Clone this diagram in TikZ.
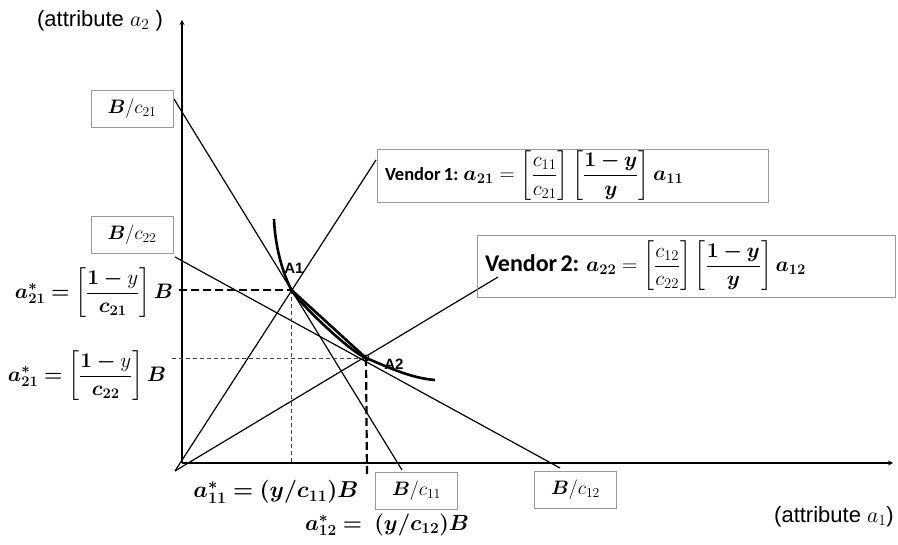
\RequirePackage{fix-cm}
\documentclass[tikz,border=0pt]{standalone}
\usepackage{amsmath,bm}
\usepackage{fontspec}
\setmainfont{Liberation Sans}
\newfontfamily\vendorfont{Carlito}
\newcommand{\eqsize}{\fontsize{21}{25}\selectfont}
\begin{document}
\begin{tikzpicture}[x=1pt, y=-1pt, line width=1.2pt, >=stealth,
        every node/.style={inner sep=0pt},
        valbox/.style={draw=black!40, line width=0.8pt, minimum width=82pt, minimum height=37pt, font=\fontsize{19.5}{22}\selectfont},
        eqbox/.style={draw=black!40, line width=0.8pt, align=left, inner xsep=8pt, font=\vendorfont\bfseries},
        axislbl/.style={font=\fontsize{22}{26}\selectfont},
        optlbl/.style={font=\fontsize{21}{25}\selectfont},
        ptlbl/.style={font=\bfseries\fontsize{15}{18}\selectfont},
        thickdash/.style={dash pattern=on 8pt off 4pt, line width=2.2pt},
        thindash/.style={dash pattern=on 4pt off 3pt, line width=0.9pt, black!75}]
    \useasboundingbox (0,0) rectangle (898,545);
    \coordinate (O) at (182,463);
    \coordinate (YT) at (182,20);
    \coordinate (XT) at (893,463);
    \coordinate (R) at (175,471);
    \coordinate (A1) at (291.5,290);
    \coordinate (A2) at (366,358);
    \coordinate (L1s) at (174,99);
    \coordinate (L1e) at (402,470);
    \coordinate (L2s) at (175,257);
    \coordinate (L2e) at (560,468);
    \coordinate (V1e) at (376,160);
    \coordinate (V2e) at (498,277);
    \coordinate (H1) at (179,290);
    \coordinate (H2) at (172,358);
    \coordinate (D1) at (291.5,463);
    \coordinate (D2) at (367,475);
    \coordinate (Cs) at (274,219);
    \coordinate (Ce) at (435,380);
    \draw[->] (O) -- (YT);
    \draw[->] (O) -- (XT);
    \draw (R) -- (V1e);
    \draw (R) -- (V2e);
    \draw (L1s) -- (L1e);
    \draw (L2s) -- (L2e);
    \draw[thickdash] (H1) -- (A1);
    \draw[thindash] (A1) -- (D1);
    \draw[thindash] (H2) -- (A2);
    \draw[thickdash] (A2) -- (D2);
    \draw[line width=2.6pt] (A1) -- (A2);
    \draw[line width=2.6pt] (Cs) .. controls (275,245) and (282,272) .. (A1)
        .. controls (298,302) and (350,352) .. (A2)
        .. controls (388,367) and (410,378) .. (Ce);
    \draw[line width=0.9pt] (A2) circle (3);
    \node[ptlbl] (a1lbl) at (294,268) {A1};
    \node[ptlbl] (a2lbl) at (394,364) {A2};
    \node[valbox] (b21) at (132,108.5) {$\bm{B}/c_{21}$};
    \node[valbox] (b22) at (132,235) {$\bm{B}/c_{22}$};
    \node[valbox] (b11) at (416.5,491) {$\bm{B}/c_{11}$};
    \node[valbox] (b12) at (575.5,490) {$\bm{B}/c_{12}$};
    \node[eqbox, text width=375pt, minimum height=53pt] (v1) at (572.5,175.5)
        {\fontsize{18.5}{21}\selectfont Vendor 1: {\eqsize$\bm{a_{21}} = \left[\dfrac{c_{11}}{c_{21}}\right]\left[\dfrac{\bm{1-y}}{\bm{y}}\right]\bm{a_{11}}$}};
    \node[eqbox, text width=402pt, minimum height=62pt] (v2) at (686,266)
        {\fontsize{24}{27}\selectfont Vendor 2:\ \ {\eqsize$\bm{a_{22}} = \left[\dfrac{c_{12}}{c_{22}}\right]\left[\dfrac{\bm{1-y}}{\bm{y}}\right]\bm{a_{12}}$}};
    \node[axislbl] (ya) at (100,21) {(attribute $a_2$ )};
    \node[axislbl] (xa) at (834,517) {(attribute $a_1$)};
    \node[optlbl] (s21a) at (94,293) {$\bm{a^{*}_{21}=}\left[\dfrac{\bm{1-}y}{\bm{c_{21}}}\right]\bm{B}$};
    \node[optlbl] (s21b) at (87,376) {$\bm{a^{*}_{21}=}\left[\dfrac{\bm{1-}y}{\bm{c_{22}}}\right]\bm{B}$};
    \node[optlbl, font=\fontsize{23}{27}\selectfont] (s11) at (276,492) {$\bm{a^{*}_{11}=(y/c_{11})B}$};
    \node[optlbl, font=\fontsize{22}{26}\selectfont] (s12) at (387,525) {$\bm{a^{*}_{12}=}\ \bm{(y/c_{12})B}$};
\end{tikzpicture}
\end{document}
